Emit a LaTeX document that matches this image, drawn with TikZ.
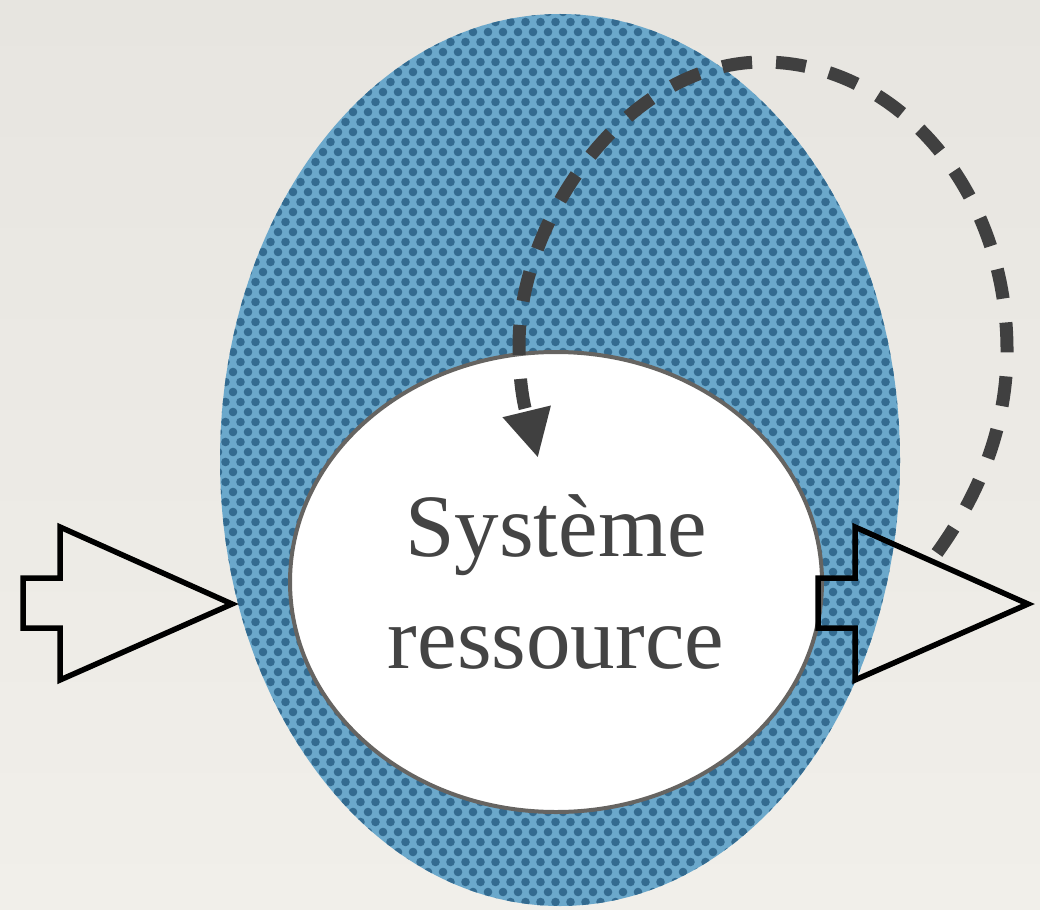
\documentclass[tikz,border=0pt]{standalone}
\usepackage{fontspec}
\setmainfont{Liberation Serif}
\usetikzlibrary{shapes.geometric,arrows.meta}
\definecolor{bgtop}{HTML}{E7E5E0}
\definecolor{bgbot}{HTML}{F1EFEA}
\definecolor{bluebase}{HTML}{6BA8CB}
\definecolor{bluedot}{HTML}{346B90}
\definecolor{rimgray}{HTML}{666461}
\definecolor{textgray}{HTML}{444444}
\definecolor{dashgray}{HTML}{404040}
\tikzset{
  blockarrow/.style={draw=black, line width=5.5pt, miter limit=10, line join=miter},
  feedback/.style={draw=dashgray, line width=13pt, dash pattern=on 30pt off 24pt,
    -{Triangle[length=48pt,width=46pt]}},
  zone/.style={ellipse, inner sep=0pt, fill=bluebase},
  resource/.style={ellipse, inner sep=0pt, draw=rimgray, line width=4pt, fill=white,
    align=center, text=textgray, font=\fontsize{89pt}{112pt}\selectfont}
}
\begin{document}
\begin{tikzpicture}[x=1pt,y=-1pt]
\useasboundingbox (0,0) rectangle (1040,909);
\fill[top color=bgtop,bottom color=bgbot] (0,0) rectangle (1040,909);
% outer textured zone
\node[zone, minimum width=680pt, minimum height=892pt,
  path picture={
    \foreach \j in {0,...,90}{
      \foreach \i in {0,...,46}{
        \fill[bluedot] ({-342+15*\i+7.5*mod(\j,2)},{-448+10*\j}) circle (4.3);
      }
    }
  }] (outer) at (560,460) {};
% inner system
\node[resource, minimum width=532pt, minimum height=460pt] (inner) at (556,582) {Système\\ressource};
% block arrows
\draw[blockarrow] (23,578) -- (60,578) -- (60,527) -- (232,604) -- (60,680) -- (60,628) -- (23,628) -- cycle;
\draw[blockarrow] (818,578) -- (855,578) -- (855,527) -- (1028,604) -- (855,680) -- (855,628) -- (818,628) -- cycle;
% feedback loop
\coordinate (loopstart) at (937,553);
\coordinate (looptip) at (538,458);
\draw[feedback] (loopstart) .. controls (981,492) and (1007,425) .. (1007,350)
  .. controls (1007,191) and (898,62) .. (763,62)
  .. controls (628,62) and (519,218) .. (519,345)
  .. controls (519,400) and (530,425) .. (looptip);
\end{tikzpicture}
\end{document}
